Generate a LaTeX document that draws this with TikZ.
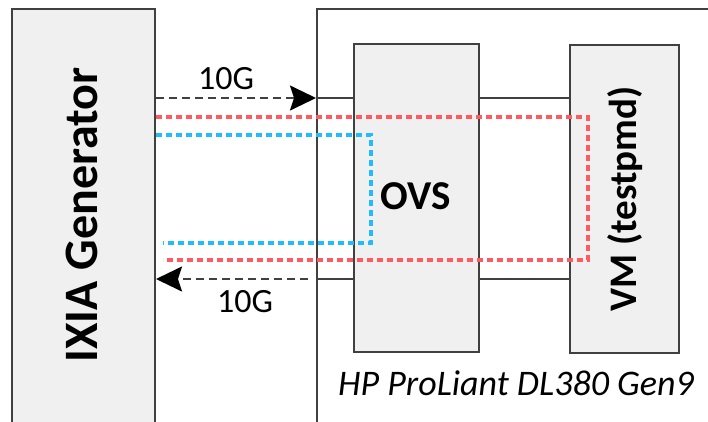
\documentclass[tikz,border=0pt]{standalone}
\usepackage{fontspec}
\setmainfont{Carlito}
\usetikzlibrary{arrows.meta}
\definecolor{boxgray}{HTML}{F0F0F0}
\definecolor{edgegray}{HTML}{404040}
\definecolor{pathred}{HTML}{FF5A5F}
\definecolor{pathblue}{HTML}{22BBFF}

\begin{document}
\begin{tikzpicture}[x=1pt, y=-1pt,
    hw/.style={rectangle, draw=edgegray, line width=2pt, inner sep=0pt},
    link/.style={line width=2pt, edgegray},
    feed/.style={line width=2pt, edgegray, dash pattern=on 8pt off 5pt, -{Stealth[length=26pt,width=25pt,inset=4pt,black]}},
    redpath/.style={line width=3.5pt, pathred, dash pattern=on 6pt off 4pt},
    bluepath/.style={line width=3.5pt, pathblue, dash pattern=on 6pt off 4pt}]
  \useasboundingbox (0,0) rectangle (708,421);
  \clip (0,0) rectangle (708,421);
  % ---------------- boxes ----------------
  \node[hw, fill=boxgray, minimum width=143pt, minimum height=440pt, anchor=north west] (ixia) at (11,8) {};
  \node[hw, fill=white, minimum width=420pt, minimum height=440pt, anchor=north west] (server) at (316,8) {};
  \node[hw, fill=boxgray, minimum width=125pt, minimum height=308pt, anchor=north west] (ovs) at (353,43) {};
  \node[hw, fill=boxgray, minimum width=109pt, minimum height=308pt, anchor=north west] (vm) at (569,44) {};
  % ---------------- ports ----------------
  \coordinate (up) at (0,98);
  \coordinate (dn) at (0,279);
  \draw[link] (server.west |- up) -- (ovs.west |- up);
  \draw[link] (ovs.east |- up) -- (vm.west |- up);
  \draw[link] (server.west |- dn) -- (ovs.west |- dn);
  \draw[link] (ovs.east |- dn) -- (vm.west |- dn);
  \draw[feed] (ixia.east |- up) -- (server.west |- up);
  \draw[feed] ([xshift=-8pt]server.west |- dn) -- (ixia.east |- dn);
  % ---------------- traffic paths ----------------
  \coordinate (rturn) at (588,117);
  \coordinate (bturn) at (371,135);
  \draw[redpath] (ixia.east |- rturn) -- (rturn) -- (588,260) -- ([xshift=7pt]ixia.east |- 0,260);
  \draw[bluepath] (ixia.east |- bturn) -- (bturn) -- (371,243) -- ([xshift=7pt]ixia.east |- 0,243);
  % ---------------- labels ----------------
  \node[font=\fontsize{48}{48}\selectfont\bfseries, rotate=90] (ixialbl) at (82,215) {IXIA Generator};
  \node[font=\fontsize{41}{41}\selectfont\bfseries] (ovslbl) at (416,196) {OVS};
  \node[font=\fontsize{39}{39}\selectfont\bfseries, rotate=90] (vmlbl) at (625,199) {VM (testpmd)};
  \node[font=\fontsize{34}{34}\selectfont] (txlbl) at (226,79) {10G};
  \node[font=\fontsize{34}{34}\selectfont] (rxlbl) at (245,302) {10G};
  \node[font=\fontsize{36}{36}\selectfont\itshape] (hostlbl) at (516,383) {HP ProLiant DL380 Gen9};
\end{tikzpicture}
\end{document}
